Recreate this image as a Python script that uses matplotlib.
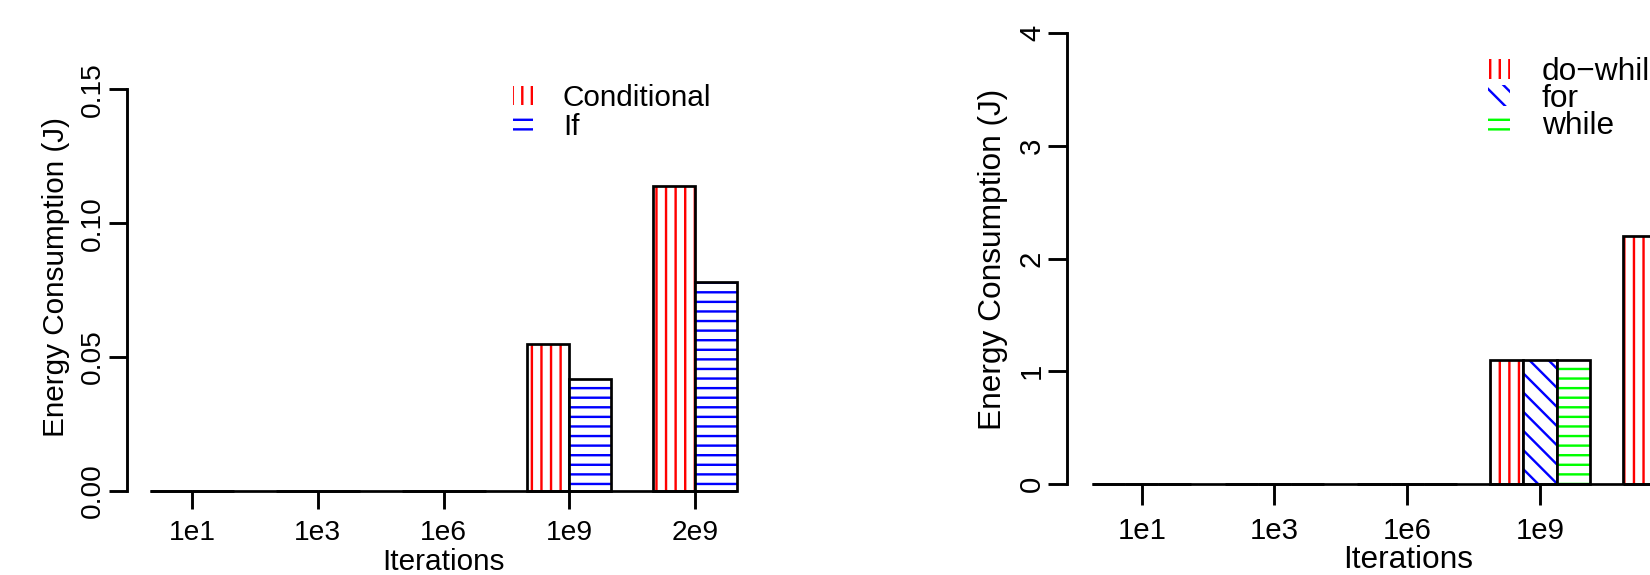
import numpy as np
import matplotlib.pyplot as plt
from matplotlib.patches import Patch

plt.rcParams['font.family'] = ['Liberation Sans', 'DejaVu Sans']
plt.rcParams['hatch.linewidth'] = 1.5

iterations = ['1e1', '1e3', '1e6', '1e9', '2e9']

# left panel: conditional vs if
cond_energy = [0.0, 0.0, 0.0, 0.055, 0.114]
if_energy = [0.0, 0.0, 0.0, 0.042, 0.078]

# right panel: loops (2e9 group for/while are cut off in the picture)
dowhile_energy = [0.0, 0.0, 0.0, 1.10, 2.20]
for_energy = [0.0, 0.0, 0.0, 1.10, 2.20]
while_energy = [0.0, 0.0, 0.0, 1.10, 2.20]

DPI = 115
W, H = 1650, 575


def grouped_bars(ax, series, colors, hatches, lw=1.7):
    # R barplot(beside=TRUE) layout: bars of width 1, one unit gap between groups
    n = len(series)
    ngroups = len(series[0])
    all_lefts = []
    for i, (vals, col, hat) in enumerate(zip(series, colors, hatches)):
        lefts = 1 + np.arange(ngroups) * (n + 1) + i
        ax.bar(lefts, vals, width=1, align='edge', facecolor='white',
               edgecolor=col, hatch=hat, linewidth=0, clip_on=False)
        ax.bar(lefts, vals, width=1, align='edge', facecolor='none',
               edgecolor='black', linewidth=lw, clip_on=False)
        all_lefts.append(lefts)
    all_lefts = np.concatenate(all_lefts)
    x0, x1 = all_lefts.min(), all_lefts.max() + 1
    ax.hlines(0, x0, x1, color='black', lw=lw, clip_on=False)
    pad = 0.04 * (x1 - x0)
    ax.set_xlim(x0 - pad, x1 + pad)
    return 1 + np.arange(ngroups) * (n + 1) + n / 2


def style_axes(ax, centers, ylim, yticks, ylabels, fs_tick, fs_lab,
               xlen, ylen, xpad, ypad, ylab_xy, xlab_xy):
    ax.set_ylim(*ylim)
    for s in ['top', 'right', 'bottom']:
        ax.spines[s].set_visible(False)
    ax.spines['left'].set_linewidth(1.8)
    ax.set_xticks(centers, labels=iterations)
    ax.set_yticks(yticks, labels=ylabels)
    ax.tick_params(axis='x', length=xlen, width=1.8, pad=xpad, labelsize=fs_tick)
    ax.tick_params(axis='y', length=ylen, width=1.8, pad=ypad, labelsize=fs_tick,
                   labelrotation=90)
    for lbl in ax.get_yticklabels():
        lbl.set_va('center')
    ax.set_ylabel('Energy Consumption (J)', fontsize=fs_lab, va='center')
    ax.yaxis.set_label_coords(*ylab_xy)
    ax.set_xlabel('Iterations', fontsize=fs_lab, va='baseline')
    ax.xaxis.set_label_coords(*xlab_xy)


fig = plt.figure(figsize=(W / DPI, H / DPI), dpi=DPI)

# ---- left panel
ax1 = fig.add_axes([0.07679, 0.14609, 0.38412, 0.69861])
c1 = grouped_bars(ax1, [cond_energy, if_energy], ['#FF0000', '#0000FF'], ['||', '--'])
style_axes(ax1, c1, (0, 0.15), [0, 0.05, 0.10, 0.15],
           ['0.00', '0.05', '0.10', '0.15'], 17.6, 18.6,
           11.3, 11.1, 6.7, 1.9, (-0.1115, 0.5315), (0.5, -0.1967))
h1 = [Patch(facecolor='white', edgecolor='#FF0000', hatch='||', linewidth=0),
      Patch(facecolor='white', edgecolor='#0000FF', hatch='--', linewidth=0)]
ax1.legend(h1, ['Conditional', 'If'], loc='upper left',
           bbox_to_anchor=(513 / W, 1 - 83.5 / H), bbox_transform=fig.transFigure,
           frameon=False, borderpad=0, borderaxespad=0, fontsize=18.6,
           handlelength=0.68, handleheight=0.61, handletextpad=1.0, labelspacing=0.05)

# ---- right panel (runs past the right edge of the picture)
ax2 = fig.add_axes([0.64648, 0.15826, 0.41279, 0.78383])
c2 = grouped_bars(ax2, [dowhile_energy, for_energy, while_energy],
                  ['#FF0000', '#0000FF', '#00FF00'], ['||', '\\\\', '--'])
style_axes(ax2, c2, (0, 4), [0, 1, 2, 3, 4], ['0', '1', '2', '3', '4'],
           18.4, 19.8, 13.1, 11.7, 7.3, 1.3, (-0.1082, 0.4992), (0.5007, -0.187))
h2 = [Patch(facecolor='white', edgecolor='#FF0000', hatch='||', linewidth=0),
      Patch(facecolor='white', edgecolor='#0000FF', hatch='\\\\', linewidth=0),
      Patch(facecolor='white', edgecolor='#00FF00', hatch='--', linewidth=0)]
ax2.legend(h2, ['do\u2212while', 'for', 'while'], loc='upper left',
           bbox_to_anchor=(1488 / W, 1 - 57 / H), bbox_transform=fig.transFigure,
           frameon=False, borderpad=0, borderaxespad=0, fontsize=19.8,
           handlelength=0.7, handleheight=0.63, handletextpad=1.0, labelspacing=-0.1)

fig.savefig('out.png', dpi=DPI)
